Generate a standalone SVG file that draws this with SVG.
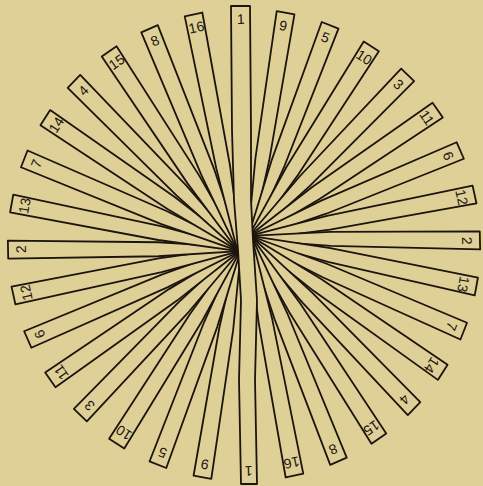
<svg xmlns="http://www.w3.org/2000/svg" width="483" height="486" viewBox="0 0 483 486">
<style>
.s{fill:#ded097;stroke:#1d140e;stroke-width:1.8;stroke-linejoin:round}
.t{font-family:"Liberation Sans",Arial,sans-serif;font-size:14px;fill:#1d140e;text-anchor:middle}
</style>
<rect width="483" height="486" fill="#ded097"/>
<g id="strips" transform="rotate(-1.1 244 245)">
<g id="strip-9">
<polygon class="s" points="298.87,15.29 281.21,11.77 257.14,158.07 248.04,237.61 251.96,238.39 270.88,160.81"/>
<polygon class="s" points="189.13,474.71 206.79,478.23 231.51,329.98 240.96,249.39 237.04,248.61 217.77,327.24"/>
<text class="t" transform="translate(290.04,13.53) rotate(11.25)" y="18">9</text>
<text class="t" transform="translate(197.96,476.47) rotate(191.25)" y="18">9</text>
</g>
<g id="strip-5">
<polygon class="s" points="342.62,30.40 326.00,23.52 273.04,161.46 248.15,237.23 251.85,238.77 285.98,166.82"/>
<polygon class="s" points="145.38,459.60 162.00,466.48 215.61,326.59 240.85,249.77 237.15,248.23 202.67,321.23"/>
<text class="t" transform="translate(334.31,26.96) rotate(22.5)" y="18">5</text>
<text class="t" transform="translate(153.69,463.04) rotate(202.5)" y="18">5</text>
</g>
<g id="strip-10">
<polygon class="s" points="382.59,53.77 367.63,43.77 287.97,167.88 248.34,236.89 251.66,239.11 299.61,175.66"/>
<polygon class="s" points="105.41,436.23 120.37,446.23 200.68,320.17 240.66,250.11 237.34,247.89 189.04,312.39"/>
<text class="t" transform="translate(375.11,48.77) rotate(33.75)" y="18">10</text>
<text class="t" transform="translate(112.89,441.23) rotate(213.75)" y="18">10</text>
</g>
<g id="strip-3">
<polygon class="s" points="417.24,84.48 404.52,71.76 301.36,177.09 248.59,236.59 251.41,239.41 311.26,186.99"/>
<polygon class="s" points="70.76,405.52 83.48,418.24 187.29,310.96 240.41,250.41 237.59,247.59 177.39,301.06"/>
<text class="t" transform="translate(410.88,78.12) rotate(45)" y="18">3</text>
<text class="t" transform="translate(77.12,411.88) rotate(225)" y="18">3</text>
</g>
<g id="strip-11">
<polygon class="s" points="445.23,121.37 435.23,106.41 312.69,188.74 248.89,236.34 251.11,239.66 320.47,200.38"/>
<polygon class="s" points="42.77,368.63 52.77,383.59 175.96,299.31 240.11,250.66 237.89,247.34 168.18,287.67"/>
<text class="t" transform="translate(440.23,113.89) rotate(56.25)" y="18">11</text>
<text class="t" transform="translate(47.77,376.11) rotate(236.25)" y="18">11</text>
</g>
<g id="strip-6">
<polygon class="s" points="465.48,163.00 458.60,146.38 321.53,202.37 249.23,236.15 250.77,239.85 326.89,215.31"/>
<polygon class="s" points="22.52,327.00 29.40,343.62 167.12,285.68 239.77,250.85 238.23,247.15 161.76,272.74"/>
<text class="t" transform="translate(462.04,154.69) rotate(67.5)" y="18">6</text>
<text class="t" transform="translate(25.96,335.31) rotate(247.5)" y="18">6</text>
</g>
<g id="strip-12">
<polygon class="s" points="477.23,207.79 473.71,190.13 327.54,217.47 249.61,236.04 250.39,239.96 330.28,231.21"/>
<polygon class="s" points="10.77,282.21 14.29,299.87 161.11,270.58 239.39,250.96 238.61,247.04 158.37,256.84"/>
<text class="t" transform="translate(475.47,198.96) rotate(78.75)" y="18">12</text>
<text class="t" transform="translate(12.53,291.04) rotate(258.75)" y="18">12</text>
</g>
<g id="strip-2">
<polygon class="s" points="480,254 480,236 330.5,233.45 250,236 250,240 330.5,247.45"/>
<polygon class="s" points="8,236 8,254 158.15,254.6 239,251 239,247 158.15,240.6"/>
<text class="t" transform="translate(480,245) rotate(90)" y="18">2</text>
<text class="t" transform="translate(8,245) rotate(270)" y="18">2</text>
</g>
<g id="strip-13">
<polygon class="s" points="473.71,299.87 477.23,282.21 330.28,249.69 250.39,236.04 249.61,239.96 327.54,263.43"/>
<polygon class="s" points="14.29,190.13 10.77,207.79 158.37,238.36 238.61,250.96 239.39,247.04 161.11,224.62"/>
<text class="t" transform="translate(475.47,291.04) rotate(101.25)" y="18">13</text>
<text class="t" transform="translate(12.53,198.96) rotate(281.25)" y="18">13</text>
</g>
<g id="strip-7">
<polygon class="s" points="458.60,343.62 465.48,327.00 326.89,265.59 250.77,236.15 249.23,239.85 321.53,278.53"/>
<polygon class="s" points="29.40,146.38 22.52,163.00 161.76,222.46 238.23,250.85 239.77,247.15 167.12,209.52"/>
<text class="t" transform="translate(462.04,335.31) rotate(112.5)" y="18">7</text>
<text class="t" transform="translate(25.96,154.69) rotate(292.5)" y="18">7</text>
</g>
<g id="strip-14">
<polygon class="s" points="435.23,383.59 445.23,368.63 320.47,280.52 251.11,236.34 248.89,239.66 312.69,292.16"/>
<polygon class="s" points="52.77,106.41 42.77,121.37 168.18,207.53 237.89,250.66 240.11,247.34 175.96,195.89"/>
<text class="t" transform="translate(440.23,376.11) rotate(123.75)" y="18">14</text>
<text class="t" transform="translate(47.77,113.89) rotate(303.75)" y="18">14</text>
</g>
<g id="strip-4">
<polygon class="s" points="404.52,418.24 417.24,405.52 311.26,293.91 251.41,236.59 248.59,239.41 301.36,303.81"/>
<polygon class="s" points="83.48,71.76 70.76,84.48 177.39,194.14 237.59,250.41 240.41,247.59 187.29,184.24"/>
<text class="t" transform="translate(410.88,411.88) rotate(135)" y="18">4</text>
<text class="t" transform="translate(77.12,78.12) rotate(315)" y="18">4</text>
</g>
<g id="strip-15">
<polygon class="s" points="367.63,446.23 382.59,436.23 299.61,305.24 251.66,236.89 248.34,239.11 287.97,313.02"/>
<polygon class="s" points="120.37,43.77 105.41,53.77 189.04,182.81 237.34,250.11 240.66,247.89 200.68,175.03"/>
<text class="t" transform="translate(375.11,441.23) rotate(146.25)" y="18">15</text>
<text class="t" transform="translate(112.89,48.77) rotate(326.25)" y="18">15</text>
</g>
<g id="strip-8">
<polygon class="s" points="326.00,466.48 342.62,459.60 285.98,314.08 251.85,237.23 248.15,238.77 273.04,319.44"/>
<polygon class="s" points="162.00,23.52 145.38,30.40 202.67,173.97 237.15,249.77 240.85,248.23 215.61,168.61"/>
<text class="t" transform="translate(334.31,463.04) rotate(157.5)" y="18">8</text>
<text class="t" transform="translate(153.69,26.96) rotate(337.5)" y="18">8</text>
</g>
<g id="strip-16">
<polygon class="s" points="281.21,478.23 298.87,474.71 270.88,320.09 251.96,237.61 248.04,238.39 257.14,322.83"/>
<polygon class="s" points="206.79,11.77 189.13,15.29 217.77,167.96 237.04,249.39 240.96,248.61 231.51,165.22"/>
<text class="t" transform="translate(290.04,476.47) rotate(168.75)" y="18">16</text>
<text class="t" transform="translate(197.96,13.53) rotate(348.75)" y="18">16</text>
</g>
</g>
<g id="strip-1">
<polygon class="s" points="231,6 250,6 251,130 251,200 253,240 257,300 255,380 257,484 241,484 239,380 241,300 238,250 234,200 232,130"/>
<text class="t" transform="translate(240.5,6) rotate(-1.1)" y="18">1</text>
<text class="t" transform="translate(249,484) rotate(178.9)" y="18">1</text>
</g>
<g id="connectors"/>
</svg>
